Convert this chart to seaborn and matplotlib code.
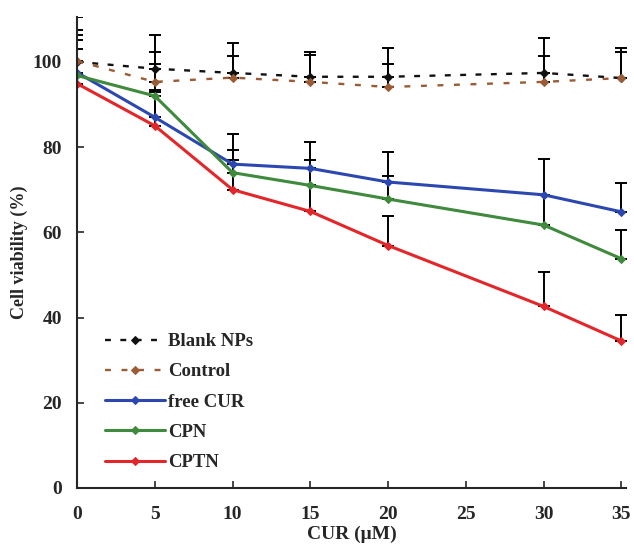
import matplotlib
matplotlib.use("Agg")
from matplotlib import pyplot as plt
import pandas as pd
import seaborn as sns
import numpy as np

# concentrations of CUR (uM)
conc = [0, 5, 10, 15, 20, 30, 35]

# cell viability (%) per formulation
blank_nps = [100, 98.4, 97.4, 96.5, 96.5, 97.4, 96.2]
control = [100.2, 95.3, 96.3, 95.3, 94.1, 95.3, 96.2]
free_cur = [97.5, 87.0, 76.0, 75.0, 71.8, 68.8, 64.8]
cpn = [96.8, 92.0, 74.0, 71.0, 67.8, 61.7, 53.8]
cptn = [94.9, 85.0, 70.0, 64.9, 56.9, 42.6, 34.5]

# upper error bars
blank_err = [10.5, 8.0, 7.1, 5.7, 6.8, 8.3, 7.1]
control_err = [7.3, 6.9, 5.1, 6.3, 5.3, 6.1, 6.0]
free_cur_err = [8.9, 12.4, 7.0, 6.3, 7.0, 8.4, 6.7]
cpn_err = [8.4, 1.4, 5.2, 6.0, 5.3, 7.1, 6.8]
cptn_err = [8.1, 8.0, 7.0, 6.1, 7.0, 8.1, 6.1]

names = ["Blank NPs", "Control", "free CUR", "CPN", "CPTN"]
values = [blank_nps, control, free_cur, cpn, cptn]
errors = [blank_err, control_err, free_cur_err, cpn_err, cptn_err]
colors = ["#111111", "#9a5b35", "#2c48b0", "#3f8a3c", "#e3262a"]
styles = [(0, (2.5, 4)), (0, (2.5, 4.5)), "-", "-", "-"]
widths = [1.7, 1.7, 2.2, 2.2, 2.2]

rows = []
for name, vals, errs in zip(names, values, errors):
    for c, v, e in zip(conc, vals, errs):
        rows.append({"conc": c, "viability": v, "err": e, "group": name})
df = pd.DataFrame(rows)

sns.set_style("ticks")
plt.rcParams["font.family"] = ["Liberation Serif", "DejaVu Serif"]
plt.rcParams["font.weight"] = "bold"

fig = plt.figure(figsize=(6.34, 5.52), dpi=100)
ax = fig.add_axes([0.1215, 0.116, 0.866, 0.853])

# error bars (upper only) drawn first, under the lines
for name, col in zip(names, colors):
    sub = df[df["group"] == name]
    ax.errorbar(sub["conc"], sub["viability"],
                yerr=[np.zeros(len(sub)), sub["err"]],
                fmt="none", ecolor="black", elinewidth=1.4, capsize=4.5,
                capthick=1.4, zorder=1)

for name, col, ls, lw in zip(names, colors, styles, widths):
    sub = df[df["group"] == name]
    sns.lineplot(data=sub, x="conc", y="viability", ax=ax, color=col,
                 linestyle=ls, linewidth=lw, marker="D", markersize=4.5,
                 markeredgecolor=col, label=name, zorder=2)

ax.set_xlim(0, 35.3)
ax.set_ylim(0, 110.5)
ax.set_xticks(np.arange(0, 36, 5))
ax.set_yticks(np.arange(0, 101, 20))
ax.tick_params(direction="in", length=5, width=1.2, labelsize=14)
ax.tick_params(axis="x", pad=13)
ax.tick_params(axis="y", pad=11)
for lab in ax.get_xticklabels() + ax.get_yticklabels():
    lab.set_fontweight("bold")
ax.spines["top"].set_visible(False)
ax.spines["right"].set_visible(False)
ax.spines["left"].set_linewidth(1.5)
ax.spines["bottom"].set_linewidth(1.5)

ax.set_xlabel("CUR (\u03bcM)", fontsize=14, fontweight="bold", labelpad=2)
ax.set_ylabel("Cell viability (%)", fontsize=13, fontweight="bold", labelpad=3)

leg = ax.legend(loc="lower left", bbox_to_anchor=(0.02, 0.0), frameon=False,
                handlelength=3.2, handletextpad=0.15, labelspacing=0.7,
                prop={"size": 13.5, "weight": "bold"})

plt.savefig("out.png", dpi=100)
